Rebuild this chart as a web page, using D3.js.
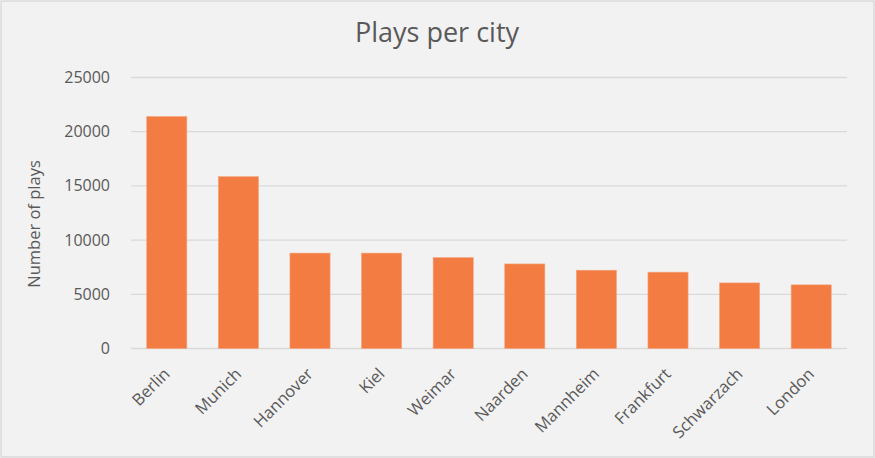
<!DOCTYPE html>
<html>
<head>
<meta charset="utf-8">
<script src="https://cdn.jsdelivr.net/npm/d3@7"></script>
<style>
  body { margin: 0; background: #fff; }
  text { font-family: "Open Sans", sans-serif; fill: #595959; }
</style>
</head>
<body>
<svg id="chart" width="875" height="458"></svg>
<script>
// chart data
const cities = ["Berlin", "Munich", "Hannover", "Kiel", "Weimar", "Naarden", "Mannheim", "Frankfurt", "Schwarzach", "London"];
const plays = [21400, 15850, 8800, 8800, 8380, 7800, 7220, 7040, 6050, 5870];
const yTicks = [0, 5000, 10000, 15000, 20000, 25000];

const svg = d3.select("#chart");
const width = 875;
const height = 458;

const plotLeft = 131, plotRight = 847, plotTop = 77.5, plotBottom = 348.5;

// background + border
svg.append("rect")
    .attr("x", 1).attr("y", 1)
    .attr("width", width - 2).attr("height", height - 2)
    .attr("fill", "#f2f2f2")
    .attr("stroke", "#d9d9d9")
    .attr("stroke-width", 1.5);

const xScale = d3.scaleBand()
    .domain(cities)
    .range([plotLeft, plotRight])
    .paddingInner(0.44)
    .paddingOuter(0.22);

const yScale = d3.scaleLinear()
    .domain([0, 25000])
    .range([plotBottom, plotTop]);

// gridlines
svg.selectAll("line.grid")
    .data(yTicks)
    .enter()
    .append("line")
    .attr("class", "grid")
    .attr("x1", plotLeft)
    .attr("x2", plotRight)
    .attr("y1", d => yScale(d))
    .attr("y2", d => yScale(d))
    .attr("stroke", "#d9d9d9")
    .attr("stroke-width", 1.3);

// y tick labels
svg.selectAll("text.ytick")
    .data(yTicks)
    .enter()
    .append("text")
    .attr("class", "ytick")
    .attr("x", 110)
    .attr("y", d => yScale(d) + 5.5)
    .attr("text-anchor", "end")
    .style("font-size", "16px")
    .text(d => d);

// bars
svg.selectAll("rect.bar")
    .data(plays)
    .enter()
    .append("rect")
    .attr("class", "bar")
    .attr("x", (d, i) => xScale(cities[i]))
    .attr("y", d => yScale(d))
    .attr("width", xScale.bandwidth())
    .attr("height", d => plotBottom - yScale(d))
    .attr("fill", "#f27c42")
    .attr("stroke", "#f5a27a")
    .attr("stroke-width", 0.6);

// x labels, rotated
svg.selectAll("text.xlabel")
    .data(cities)
    .enter()
    .append("text")
    .attr("class", "xlabel")
    .attr("text-anchor", "end")
    .attr("transform", d => `translate(${xScale(d) + xScale.bandwidth() / 2 + 4},${375}) rotate(-45)`)
    .style("font-size", "16.5px")
    .text(d => d);

// title
svg.append("text")
    .attr("x", 437)
    .attr("y", 42)
    .attr("text-anchor", "middle")
    .style("font-size", "27px")
    .text("Plays per city");

// y axis title
svg.append("text")
    .attr("transform", "translate(40,224) rotate(-90)")
    .attr("text-anchor", "middle")
    .style("font-size", "16.5px")
    .text("Number of plays");
</script>
</body>
</html>
